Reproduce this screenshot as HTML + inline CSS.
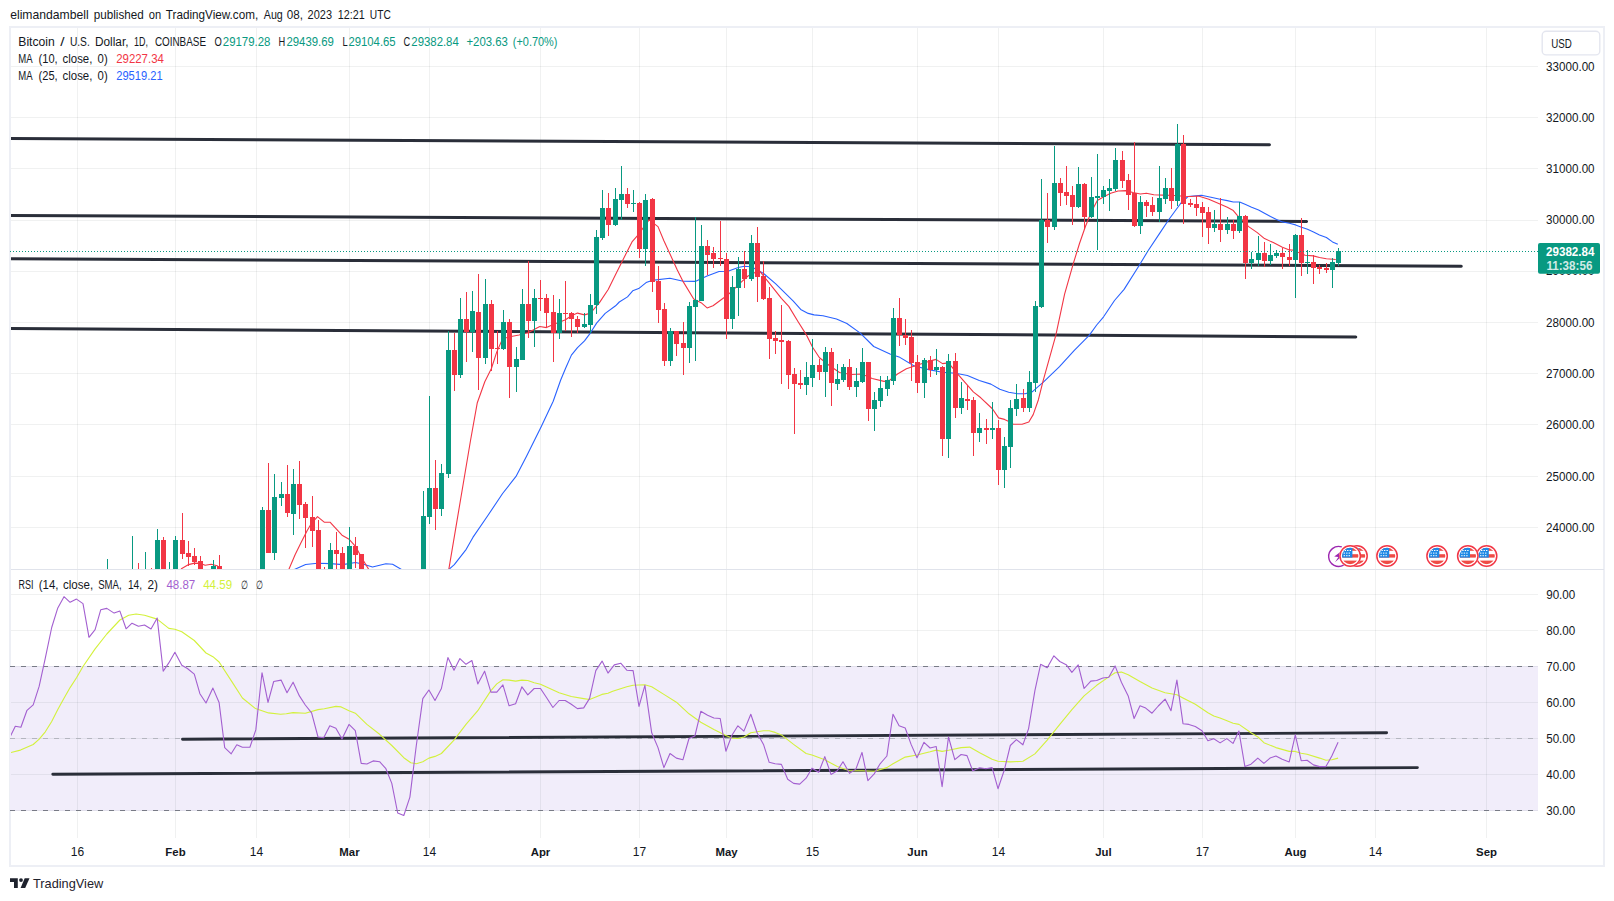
<!DOCTYPE html><html><head><meta charset="utf-8"><title>BTCUSD chart</title><style>html,body{margin:0;padding:0;background:#fff}</style></head><body><svg width="1614" height="901" viewBox="0 0 1614 901" style="display:block;font-family:'Liberation Sans', sans-serif">
<rect width="1614" height="901" fill="#fff"/>
<text x="10.2" y="18.6" font-size="13" fill="#131722" textLength="78.4" lengthAdjust="spacingAndGlyphs">elimandambell</text>
<text x="93.8" y="18.6" font-size="13" fill="#131722" textLength="49.9" lengthAdjust="spacingAndGlyphs">published</text>
<text x="148.7" y="18.6" font-size="13" fill="#131722" textLength="12.4" lengthAdjust="spacingAndGlyphs">on</text>
<text x="165.8" y="18.6" font-size="13" fill="#131722" textLength="92.4" lengthAdjust="spacingAndGlyphs">TradingView.com,</text>
<text x="263.8" y="18.6" font-size="13" fill="#131722" textLength="19" lengthAdjust="spacingAndGlyphs">Aug</text>
<text x="286.7" y="18.6" font-size="13" fill="#131722" textLength="16.2" lengthAdjust="spacingAndGlyphs">08,</text>
<text x="307.6" y="18.6" font-size="13" fill="#131722" textLength="24.4" lengthAdjust="spacingAndGlyphs">2023</text>
<text x="337.8" y="18.6" font-size="13" fill="#131722" textLength="27" lengthAdjust="spacingAndGlyphs">12:21</text>
<text x="369.8" y="18.6" font-size="13" fill="#131722" textLength="21" lengthAdjust="spacingAndGlyphs">UTC</text>
<rect x="10" y="27" width="1594" height="839" fill="#fff" stroke="#edeff5" stroke-width="2"/>
<defs><clipPath id="cm"><rect x="11" y="28" width="1527" height="541"/></clipPath><clipPath id="cr"><rect x="11" y="570" width="1527" height="268"/></clipPath></defs>
<rect x="10" y="666" width="1528" height="145" fill="#f1edfa"/>
<g fill="rgba(36,52,48,0.068)" shape-rendering="crispEdges"><rect x="77" y="28" width="1" height="810"/><rect x="175" y="28" width="1" height="810"/><rect x="256" y="28" width="1" height="810"/><rect x="349" y="28" width="1" height="810"/><rect x="429" y="28" width="1" height="810"/><rect x="540" y="28" width="1" height="810"/><rect x="639" y="28" width="1" height="810"/><rect x="726" y="28" width="1" height="810"/><rect x="812" y="28" width="1" height="810"/><rect x="917" y="28" width="1" height="810"/><rect x="998" y="28" width="1" height="810"/><rect x="1103" y="28" width="1" height="810"/><rect x="1202" y="28" width="1" height="810"/><rect x="1295" y="28" width="1" height="810"/><rect x="1375" y="28" width="1" height="810"/><rect x="1486" y="28" width="1" height="810"/><rect x="11" y="527" width="1527" height="1"/><rect x="11" y="476" width="1527" height="1"/><rect x="11" y="424" width="1527" height="1"/><rect x="11" y="373" width="1527" height="1"/><rect x="11" y="322" width="1527" height="1"/><rect x="11" y="271" width="1527" height="1"/><rect x="11" y="220" width="1527" height="1"/><rect x="11" y="168" width="1527" height="1"/><rect x="11" y="117" width="1527" height="1"/><rect x="11" y="66" width="1527" height="1"/><rect x="11" y="594" width="1527" height="1"/><rect x="11" y="630" width="1527" height="1"/><rect x="11" y="666" width="1527" height="1"/><rect x="11" y="702" width="1527" height="1"/><rect x="11" y="738" width="1527" height="1"/><rect x="11" y="774" width="1527" height="1"/><rect x="11" y="810" width="1527" height="1"/></g>
<rect x="11" y="569" width="1593" height="1" fill="#e0e3eb" shape-rendering="crispEdges"/>
<line x1="10" x2="1538" y1="666.5" y2="666.5" stroke="#787b86" stroke-width="1" stroke-dasharray="5 6" shape-rendering="crispEdges"/>
<line x1="10" x2="1538" y1="810.5" y2="810.5" stroke="#787b86" stroke-width="1" stroke-dasharray="5 6" shape-rendering="crispEdges"/>
<line x1="10" x2="1538" y1="738.5" y2="738.5" stroke="#b4b6bf" stroke-width="1" stroke-dasharray="5 6" shape-rendering="crispEdges"/>
<g clip-path="url(#cm)" stroke="#2a2e39" stroke-width="3.0" stroke-linecap="round">
<line x1="7" y1="138.59" x2="1269.5" y2="144.80"/>
<line x1="7" y1="215.39" x2="1306.6000000000001" y2="221.40"/>
<line x1="7" y1="258.68" x2="1461.3000000000002" y2="266.30"/>
<line x1="7" y1="328.38" x2="1355.8000000000002" y2="337.00"/>
</g>
<g clip-path="url(#cm)">
<polyline points="294.4,569.5 305.6,564.5 317.5,563.3 330.4,563.6 342.7,564.6 355.5,562.5 363.6,564.2 372.5,567.0 385.9,563.7 392.6,564.2 401.5,569.5" fill="none" stroke="#2962ff" stroke-width="1.1" stroke-linejoin="round" clip-path="url(#cm)" />
<polyline points="448.8,569.5 454.3,564.6 466.2,549.3 472.9,537.4 487.7,515.8 502.6,493.5 516.0,476.4 526.4,456.4 534.6,440.0 541.3,426.4 553.2,401.2 560.6,380.3 565.5,368.5 571.4,355.1 577.5,347.6 584.5,340.9 590.5,332.8 596.6,323.1 605.2,313.4 615.6,305.8 619.3,302.0 627.5,296.9 632.7,290.8 638.7,288.6 646.1,282.6 652.0,280.4 669.9,278.2 683.3,281.2 695.2,281.4 707.1,275.9 719.0,271.5 727.9,271.2 738.3,267.5 744.2,266.3 751.4,266.7 763.6,273.5 775.5,283.6 793.3,301.2 800.7,309.4 808.2,313.4 814.1,314.9 823.0,315.7 836.5,319.0 846.9,323.5 860.3,333.1 873.7,346.5 890.0,353.9 899.0,356.9 913.8,365.8 928.7,369.6 942.5,372.2 955.5,373.3 967.4,375.5 979.3,380.5 990.9,384.1 999.8,389.3 1008.7,392.3 1017.6,393.8 1025.1,393.8 1032.5,391.6 1038.4,386.4 1043.1,382.3 1059.5,366.7 1074.3,350.3 1089.2,335.4 1096.7,325.0 1103.6,316.8 1114.5,300.5 1124.1,289.4 1139.0,265.8 1147.9,251.0 1159.8,233.1 1168.7,219.8 1180.6,203.5 1188.0,196.5 1201.4,195.2 1213.3,197.7 1220.0,199.3 1227.3,200.6 1233.3,202.0 1239.6,202.0 1245.6,204.6 1251.6,207.3 1258.6,210.0 1264.5,213.3 1270.5,216.6 1276.5,219.5 1282.4,221.9 1289.4,223.3 1295.6,224.9 1301.5,227.3 1307.5,229.3 1313.5,231.9 1319.5,234.9 1326.4,237.5 1332.5,241.9 1337.8,244.3" fill="none" stroke="#2962ff" stroke-width="1.1" stroke-linejoin="round" clip-path="url(#cm)" />
<polyline points="181.0,569.0 188.6,564.6 194.5,563.1 200.4,563.4 205.2,565.2 211.2,564.2 217.1,565.7 221.0,569.5" fill="none" stroke="#f23645" stroke-width="1.1" stroke-linejoin="round" clip-path="url(#cm)" />
<polyline points="288.8,569.5 295.2,554.5 301.1,542.6 307.1,530.7 311.5,523.3 317.5,516.6 324.2,522.2 330.0,522.2 342.0,535.2 348.7,538.9 355.5,546.3 361.5,557.5 368.8,569.5" fill="none" stroke="#f23645" stroke-width="1.1" stroke-linejoin="round" clip-path="url(#cm)" />
<polyline points="448.8,569.5 470.6,440.0 477.3,402.7 484.8,381.8 491.4,368.5 496.7,352.1 502.6,338.7 510.0,336.8 519.0,335.0 527.9,332.8 539.8,326.5 546.5,327.6 553.2,324.6 559.9,322.1 565.5,319.7 571.4,315.7 577.5,313.1 584.5,314.9 590.5,313.1 596.6,306.0 599.3,302.9 608.2,289.5 615.6,274.6 623.0,259.7 632.0,241.9 637.5,235.7 649.1,219.9 658.0,226.6 663.9,240.7 677.3,270.0 683.3,281.9 693.7,299.0 701.1,302.7 707.1,307.9 713.0,305.7 724.2,297.5 730.9,292.3 739.8,283.4 748.0,276.0 759.1,270.4 769.5,283.4 781.4,298.3 788.8,306.4 797.8,321.3 806.7,335.4 812.6,347.3 819.5,357.7 829.0,365.2 839.5,372.5 851.4,374.5 861.8,374.0 872.2,378.5 884.1,381.4 890.0,380.0 897.5,374.0 906.4,368.8 917.5,365.1 928.7,361.4 936.1,359.4 942.5,363.6 948.5,362.9 958.4,374.8 967.4,385.2 973.3,391.9 980.8,397.8 992.6,409.0 998.6,417.9 1004.5,419.4 1010.5,422.3 1013.2,424.3 1022.1,424.3 1028.8,422.0 1033.2,414.6 1038.4,399.7 1043.1,380.8 1055.8,335.4 1064.6,294.1 1073.5,262.9 1079.5,243.5 1085.4,226.5 1091.4,211.7 1097.3,200.5 1103.3,197.0 1110.7,193.3 1118.1,191.0 1125.6,190.6 1133.0,192.5 1140.4,194.0 1146.4,193.3 1153.8,194.8 1162.8,195.1 1174.6,195.5 1183.6,196.2 1191.0,196.5 1198.4,196.0 1208.8,199.2 1219.3,203.7 1227.3,207.3 1233.3,210.6 1237.3,215.3 1248.6,226.6 1257.3,232.6 1264.5,238.6 1273.3,242.6 1282.4,247.2 1289.4,249.9 1294.6,250.2 1298.6,252.6 1305.2,255.2 1313.2,255.9 1319.5,257.5 1326.4,258.8 1335.8,259.5" fill="none" stroke="#f23645" stroke-width="1.1" stroke-linejoin="round" clip-path="url(#cm)" />
</g>
<g clip-path="url(#cm)" shape-rendering="crispEdges"><g fill="#089981"><rect x="107" y="559" width="1" height="21"/><rect x="105" y="575" width="5" height="5"/><rect x="132" y="536" width="1" height="44"/><rect x="130" y="575" width="5" height="5"/><rect x="145" y="552" width="1" height="28"/><rect x="143" y="575" width="5" height="5"/><rect x="157" y="529" width="1" height="51"/><rect x="155" y="540" width="5" height="40"/><rect x="169" y="562" width="1" height="18"/><rect x="167" y="575" width="5" height="5"/><rect x="175" y="536" width="1" height="44"/><rect x="173" y="540" width="5" height="40"/><rect x="213" y="560" width="1" height="20"/><rect x="211" y="566" width="5" height="14"/><rect x="262" y="507" width="1" height="73"/><rect x="260" y="510" width="5" height="70"/><rect x="274" y="474" width="1" height="86"/><rect x="272" y="497" width="5" height="56"/><rect x="281" y="482" width="1" height="24"/><rect x="279" y="494" width="5" height="4"/><rect x="293" y="469" width="1" height="66"/><rect x="291" y="484" width="5" height="30"/><rect x="330" y="543" width="1" height="37"/><rect x="328" y="550" width="5" height="30"/><rect x="349" y="527" width="1" height="53"/><rect x="347" y="546" width="5" height="34"/><rect x="423" y="491" width="1" height="89"/><rect x="421" y="516" width="5" height="64"/><rect x="429" y="396" width="1" height="128"/><rect x="427" y="488" width="5" height="29"/><rect x="441" y="464" width="1" height="52"/><rect x="439" y="473" width="5" height="36"/><rect x="448" y="331" width="1" height="147"/><rect x="446" y="350" width="5" height="124"/><rect x="460" y="298" width="1" height="80"/><rect x="458" y="319" width="5" height="56"/><rect x="472" y="291" width="1" height="61"/><rect x="470" y="311" width="5" height="21"/><rect x="485" y="279" width="1" height="85"/><rect x="483" y="304" width="5" height="54"/><rect x="503" y="310" width="1" height="40"/><rect x="501" y="322" width="5" height="27"/><rect x="516" y="347" width="1" height="45"/><rect x="514" y="359" width="5" height="8"/><rect x="522" y="289" width="1" height="71"/><rect x="520" y="304" width="5" height="56"/><rect x="534" y="289" width="1" height="58"/><rect x="532" y="298" width="5" height="23"/><rect x="559" y="299" width="1" height="40"/><rect x="557" y="313" width="5" height="20"/><rect x="584" y="313" width="1" height="15"/><rect x="582" y="324" width="5" height="3"/><rect x="590" y="294" width="1" height="39"/><rect x="588" y="305" width="5" height="20"/><rect x="596" y="230" width="1" height="84"/><rect x="594" y="237" width="5" height="68"/><rect x="602" y="190" width="1" height="50"/><rect x="600" y="208" width="5" height="30"/><rect x="615" y="188" width="1" height="38"/><rect x="613" y="199" width="5" height="26"/><rect x="621" y="166" width="1" height="54"/><rect x="619" y="194" width="5" height="6"/><rect x="633" y="190" width="1" height="22"/><rect x="631" y="203" width="5" height="1"/><rect x="645" y="194" width="1" height="72"/><rect x="643" y="200" width="5" height="49"/><rect x="670" y="328" width="1" height="38"/><rect x="668" y="331" width="5" height="30"/><rect x="689" y="302" width="1" height="61"/><rect x="687" y="306" width="5" height="42"/><rect x="695" y="217" width="1" height="144"/><rect x="693" y="300" width="5" height="7"/><rect x="701" y="225" width="1" height="76"/><rect x="699" y="246" width="5" height="55"/><rect x="732" y="276" width="1" height="53"/><rect x="730" y="287" width="5" height="32"/><rect x="738" y="257" width="1" height="59"/><rect x="736" y="269" width="5" height="19"/><rect x="751" y="235" width="1" height="46"/><rect x="749" y="243" width="5" height="36"/><rect x="806" y="362" width="1" height="33"/><rect x="804" y="377" width="5" height="8"/><rect x="812" y="339" width="1" height="48"/><rect x="810" y="365" width="5" height="13"/><rect x="825" y="347" width="1" height="50"/><rect x="823" y="352" width="5" height="20"/><rect x="837" y="364" width="1" height="26"/><rect x="835" y="379" width="5" height="5"/><rect x="843" y="364" width="1" height="18"/><rect x="841" y="367" width="5" height="13"/><rect x="856" y="368" width="1" height="29"/><rect x="854" y="381" width="5" height="6"/><rect x="862" y="348" width="1" height="35"/><rect x="860" y="362" width="5" height="20"/><rect x="874" y="392" width="1" height="39"/><rect x="872" y="400" width="5" height="9"/><rect x="880" y="376" width="1" height="31"/><rect x="878" y="388" width="5" height="13"/><rect x="887" y="376" width="1" height="20"/><rect x="885" y="380" width="5" height="9"/><rect x="893" y="308" width="1" height="77"/><rect x="891" y="318" width="5" height="63"/><rect x="924" y="358" width="1" height="40"/><rect x="922" y="360" width="5" height="23"/><rect x="936" y="349" width="1" height="26"/><rect x="934" y="367" width="5" height="3"/><rect x="948" y="354" width="1" height="104"/><rect x="946" y="361" width="5" height="78"/><rect x="961" y="382" width="1" height="32"/><rect x="959" y="398" width="5" height="10"/><rect x="979" y="413" width="1" height="29"/><rect x="977" y="428" width="5" height="5"/><rect x="992" y="402" width="1" height="37"/><rect x="990" y="428" width="5" height="2"/><rect x="1004" y="437" width="1" height="51"/><rect x="1002" y="446" width="5" height="24"/><rect x="1010" y="400" width="1" height="68"/><rect x="1008" y="408" width="5" height="39"/><rect x="1016" y="384" width="1" height="32"/><rect x="1014" y="399" width="5" height="10"/><rect x="1029" y="371" width="1" height="41"/><rect x="1027" y="382" width="5" height="26"/><rect x="1035" y="301" width="1" height="91"/><rect x="1033" y="306" width="5" height="77"/><rect x="1041" y="179" width="1" height="129"/><rect x="1039" y="220" width="5" height="87"/><rect x="1054" y="146" width="1" height="84"/><rect x="1052" y="183" width="5" height="44"/><rect x="1078" y="167" width="1" height="41"/><rect x="1076" y="184" width="5" height="23"/><rect x="1091" y="177" width="1" height="41"/><rect x="1089" y="197" width="5" height="20"/><rect x="1097" y="154" width="1" height="96"/><rect x="1095" y="196" width="5" height="2"/><rect x="1103" y="186" width="1" height="18"/><rect x="1101" y="190" width="5" height="7"/><rect x="1109" y="179" width="1" height="32"/><rect x="1107" y="188" width="5" height="3"/><rect x="1115" y="148" width="1" height="43"/><rect x="1113" y="160" width="5" height="29"/><rect x="1140" y="196" width="1" height="38"/><rect x="1138" y="202" width="5" height="24"/><rect x="1159" y="166" width="1" height="56"/><rect x="1157" y="198" width="5" height="14"/><rect x="1165" y="178" width="1" height="26"/><rect x="1163" y="188" width="5" height="11"/><rect x="1177" y="124" width="1" height="82"/><rect x="1175" y="144" width="5" height="57"/><rect x="1214" y="210" width="1" height="22"/><rect x="1212" y="224" width="5" height="4"/><rect x="1227" y="217" width="1" height="17"/><rect x="1225" y="224" width="5" height="6"/><rect x="1239" y="202" width="1" height="31"/><rect x="1237" y="216" width="5" height="15"/><rect x="1251" y="252" width="1" height="17"/><rect x="1249" y="259" width="5" height="4"/><rect x="1258" y="236" width="1" height="30"/><rect x="1256" y="253" width="5" height="7"/><rect x="1270" y="244" width="1" height="21"/><rect x="1268" y="255" width="5" height="6"/><rect x="1276" y="250" width="1" height="8"/><rect x="1274" y="253" width="5" height="3"/><rect x="1295" y="234" width="1" height="64"/><rect x="1293" y="235" width="5" height="25"/><rect x="1307" y="250" width="1" height="24"/><rect x="1305" y="262" width="5" height="1"/><rect x="1332" y="258" width="1" height="30"/><rect x="1330" y="262" width="5" height="8"/><rect x="1338" y="248" width="1" height="18"/><rect x="1336" y="251" width="5" height="12"/></g><g fill="#f23645"><rect x="138" y="563" width="1" height="17"/><rect x="136" y="575" width="5" height="5"/><rect x="151" y="568" width="1" height="12"/><rect x="149" y="575" width="5" height="5"/><rect x="163" y="537" width="1" height="43"/><rect x="161" y="540" width="5" height="40"/><rect x="182" y="513" width="1" height="46"/><rect x="180" y="540" width="5" height="14"/><rect x="188" y="541" width="1" height="25"/><rect x="186" y="553" width="5" height="4"/><rect x="194" y="548" width="1" height="17"/><rect x="192" y="556" width="5" height="6"/><rect x="200" y="556" width="1" height="24"/><rect x="198" y="561" width="5" height="19"/><rect x="219" y="555" width="1" height="25"/><rect x="217" y="566" width="5" height="14"/><rect x="268" y="463" width="1" height="90"/><rect x="266" y="510" width="5" height="43"/><rect x="287" y="465" width="1" height="52"/><rect x="285" y="494" width="5" height="19"/><rect x="299" y="461" width="1" height="58"/><rect x="297" y="484" width="5" height="21"/><rect x="305" y="502" width="1" height="46"/><rect x="303" y="504" width="5" height="14"/><rect x="312" y="496" width="1" height="51"/><rect x="310" y="517" width="5" height="14"/><rect x="318" y="520" width="1" height="60"/><rect x="316" y="530" width="5" height="50"/><rect x="324" y="567" width="1" height="13"/><rect x="322" y="575" width="5" height="5"/><rect x="336" y="532" width="1" height="48"/><rect x="334" y="550" width="5" height="4"/><rect x="342" y="547" width="1" height="33"/><rect x="340" y="553" width="5" height="27"/><rect x="355" y="537" width="1" height="31"/><rect x="353" y="546" width="5" height="9"/><rect x="361" y="554" width="1" height="26"/><rect x="359" y="554" width="5" height="26"/><rect x="435" y="460" width="1" height="70"/><rect x="433" y="488" width="5" height="21"/><rect x="454" y="333" width="1" height="58"/><rect x="452" y="350" width="5" height="25"/><rect x="466" y="292" width="1" height="70"/><rect x="464" y="319" width="5" height="13"/><rect x="478" y="274" width="1" height="116"/><rect x="476" y="312" width="5" height="46"/><rect x="491" y="300" width="1" height="71"/><rect x="489" y="304" width="5" height="45"/><rect x="497" y="331" width="1" height="33"/><rect x="495" y="348" width="5" height="1"/><rect x="509" y="319" width="1" height="79"/><rect x="507" y="322" width="5" height="45"/><rect x="528" y="261" width="1" height="77"/><rect x="526" y="304" width="5" height="17"/><rect x="540" y="280" width="1" height="31"/><rect x="538" y="298" width="5" height="1"/><rect x="546" y="294" width="1" height="34"/><rect x="544" y="298" width="5" height="15"/><rect x="553" y="295" width="1" height="67"/><rect x="551" y="312" width="5" height="21"/><rect x="565" y="281" width="1" height="50"/><rect x="563" y="313" width="5" height="1"/><rect x="571" y="312" width="1" height="25"/><rect x="569" y="313" width="5" height="6"/><rect x="577" y="316" width="1" height="17"/><rect x="575" y="319" width="5" height="8"/><rect x="608" y="193" width="1" height="43"/><rect x="606" y="208" width="5" height="17"/><rect x="627" y="188" width="1" height="20"/><rect x="625" y="194" width="5" height="10"/><rect x="639" y="202" width="1" height="56"/><rect x="637" y="203" width="5" height="46"/><rect x="652" y="198" width="1" height="94"/><rect x="650" y="199" width="5" height="83"/><rect x="658" y="266" width="1" height="57"/><rect x="656" y="281" width="5" height="29"/><rect x="664" y="303" width="1" height="63"/><rect x="662" y="309" width="5" height="52"/><rect x="676" y="331" width="1" height="25"/><rect x="674" y="331" width="5" height="13"/><rect x="683" y="322" width="1" height="53"/><rect x="681" y="343" width="5" height="5"/><rect x="707" y="240" width="1" height="35"/><rect x="705" y="246" width="5" height="9"/><rect x="713" y="247" width="1" height="21"/><rect x="711" y="253" width="5" height="6"/><rect x="720" y="221" width="1" height="45"/><rect x="718" y="258" width="5" height="1"/><rect x="726" y="253" width="1" height="86"/><rect x="724" y="259" width="5" height="60"/><rect x="744" y="251" width="1" height="37"/><rect x="742" y="269" width="5" height="10"/><rect x="757" y="227" width="1" height="75"/><rect x="755" y="243" width="5" height="34"/><rect x="763" y="261" width="1" height="39"/><rect x="761" y="276" width="5" height="23"/><rect x="769" y="287" width="1" height="72"/><rect x="767" y="298" width="5" height="41"/><rect x="775" y="331" width="1" height="23"/><rect x="773" y="338" width="5" height="3"/><rect x="781" y="305" width="1" height="79"/><rect x="779" y="340" width="5" height="2"/><rect x="788" y="340" width="1" height="49"/><rect x="786" y="341" width="5" height="34"/><rect x="794" y="368" width="1" height="66"/><rect x="792" y="374" width="5" height="10"/><rect x="800" y="370" width="1" height="19"/><rect x="798" y="383" width="5" height="2"/><rect x="819" y="359" width="1" height="21"/><rect x="817" y="365" width="5" height="7"/><rect x="831" y="348" width="1" height="58"/><rect x="829" y="352" width="5" height="31"/><rect x="849" y="359" width="1" height="31"/><rect x="847" y="367" width="5" height="20"/><rect x="868" y="362" width="1" height="59"/><rect x="866" y="362" width="5" height="47"/><rect x="899" y="298" width="1" height="48"/><rect x="897" y="318" width="5" height="17"/><rect x="905" y="319" width="1" height="26"/><rect x="903" y="335" width="5" height="3"/><rect x="911" y="330" width="1" height="51"/><rect x="909" y="337" width="5" height="26"/><rect x="917" y="355" width="1" height="38"/><rect x="915" y="362" width="5" height="21"/><rect x="930" y="356" width="1" height="21"/><rect x="928" y="360" width="5" height="10"/><rect x="942" y="366" width="1" height="90"/><rect x="940" y="367" width="5" height="72"/><rect x="955" y="353" width="1" height="65"/><rect x="953" y="361" width="5" height="47"/><rect x="967" y="385" width="1" height="25"/><rect x="965" y="399" width="5" height="2"/><rect x="973" y="397" width="1" height="59"/><rect x="971" y="400" width="5" height="33"/><rect x="986" y="419" width="1" height="25"/><rect x="984" y="428" width="5" height="2"/><rect x="998" y="420" width="1" height="65"/><rect x="996" y="428" width="5" height="42"/><rect x="1023" y="389" width="1" height="23"/><rect x="1021" y="398" width="5" height="10"/><rect x="1047" y="193" width="1" height="50"/><rect x="1045" y="220" width="5" height="7"/><rect x="1060" y="178" width="1" height="28"/><rect x="1058" y="183" width="5" height="10"/><rect x="1066" y="166" width="1" height="39"/><rect x="1064" y="192" width="5" height="4"/><rect x="1072" y="186" width="1" height="39"/><rect x="1070" y="195" width="5" height="12"/><rect x="1084" y="183" width="1" height="46"/><rect x="1082" y="184" width="5" height="33"/><rect x="1122" y="151" width="1" height="37"/><rect x="1120" y="160" width="5" height="21"/><rect x="1128" y="174" width="1" height="36"/><rect x="1126" y="180" width="5" height="15"/><rect x="1134" y="142" width="1" height="85"/><rect x="1132" y="193" width="5" height="33"/><rect x="1146" y="200" width="1" height="17"/><rect x="1144" y="202" width="5" height="4"/><rect x="1152" y="197" width="1" height="19"/><rect x="1150" y="205" width="5" height="7"/><rect x="1171" y="168" width="1" height="41"/><rect x="1169" y="188" width="5" height="13"/><rect x="1183" y="135" width="1" height="89"/><rect x="1181" y="144" width="5" height="60"/><rect x="1190" y="199" width="1" height="8"/><rect x="1188" y="203" width="5" height="2"/><rect x="1196" y="196" width="1" height="20"/><rect x="1194" y="204" width="5" height="4"/><rect x="1202" y="202" width="1" height="35"/><rect x="1200" y="207" width="5" height="6"/><rect x="1208" y="207" width="1" height="37"/><rect x="1206" y="212" width="5" height="16"/><rect x="1220" y="198" width="1" height="44"/><rect x="1218" y="224" width="5" height="6"/><rect x="1233" y="220" width="1" height="19"/><rect x="1231" y="224" width="5" height="7"/><rect x="1245" y="215" width="1" height="64"/><rect x="1243" y="216" width="5" height="47"/><rect x="1264" y="242" width="1" height="25"/><rect x="1262" y="253" width="5" height="8"/><rect x="1282" y="248" width="1" height="21"/><rect x="1280" y="253" width="5" height="4"/><rect x="1289" y="244" width="1" height="22"/><rect x="1287" y="257" width="5" height="3"/><rect x="1301" y="218" width="1" height="58"/><rect x="1299" y="235" width="5" height="28"/><rect x="1313" y="255" width="1" height="29"/><rect x="1311" y="262" width="5" height="6"/><rect x="1319" y="265" width="1" height="9"/><rect x="1317" y="267" width="5" height="2"/><rect x="1326" y="263" width="1" height="10"/><rect x="1324" y="268" width="5" height="2"/></g></g>
<line x1="10" x2="1538" y1="251.5" y2="251.5" stroke="#089981" stroke-width="1" stroke-dasharray="1 2" shape-rendering="crispEdges"/>
<g stroke="#2a2e39" stroke-width="2.9" stroke-linecap="round"><line x1="182.5" y1="739.2" x2="1386.6" y2="732.8"/><line x1="52.8" y1="774.3" x2="1417.4" y2="767.6"/></g>
<polyline points="10.3,752.7 20.5,750.1 33.2,744.5 39.2,739.2 45.3,731.8 51.7,721.5 57.8,709.4 64.0,698.2 70.1,687.6 76.5,677.7 83.0,666.5 95.1,648.9 106.8,634.0 119.9,620.0 128.7,615.3 136.1,614.0 144.5,615.3 157.2,619.1 168.8,628.4 174.9,629.3 181.8,631.8 194.3,640.5 206.0,653.0 212.9,656.7 219.1,662.0 231.2,680.6 242.4,698.0 255.5,708.6 268.5,712.9 280.6,714.2 286.3,713.8 293.1,712.6 305.3,713.2 318.0,709.6 324.3,708.8 335.9,706.4 341.2,706.9 349.0,710.7 355.3,713.2 366.9,724.4 379.6,734.3 391.8,745.5 403.8,757.7 410.8,762.8 416.3,763.8 422.8,761.7 428.9,758.1 435.0,756.4 441.4,753.5 454.0,740.2 466.0,724.4 477.8,710.7 490.9,690.6 496.8,683.9 502.9,679.7 509.1,680.1 515.6,681.1 521.9,680.1 527.8,680.5 534.2,682.8 540.5,684.3 559.1,692.7 571.3,696.5 583.7,698.6 589.6,699.5 595.8,697.0 601.9,694.4 608.0,693.2 612.7,691.3 626.8,686.8 633.1,685.3 644.9,684.7 651.7,686.8 663.9,694.4 676.4,702.2 689.0,713.8 700.8,722.3 713.9,729.6 725.9,735.5 731.8,738.1 737.9,738.5 743.9,737.0 750.8,732.8 757.1,731.8 763.5,730.7 769.2,730.7 775.1,732.4 781.4,734.9 793.6,744.4 806.1,753.5 812.0,755.0 824.8,759.8 837.3,766.6 849.5,770.8 862.0,770.8 874.2,771.2 886.9,767.6 893.0,763.8 905.2,757.1 917.0,755.0 930.1,751.8 936.2,750.1 942.1,751.4 948.5,750.3 961.1,747.6 969.6,747.1 979.7,752.8 992.1,759.2 998.0,761.3 1010.3,761.9 1022.9,761.3 1034.9,753.9 1047.2,740.2 1059.8,724.4 1071.9,709.6 1084.1,695.9 1096.7,685.3 1108.8,676.9 1115.1,672.7 1121.4,672.1 1128.2,674.8 1140.0,681.6 1152.0,688.1 1165.1,692.7 1176.9,694.8 1183.0,698.0 1195.3,704.3 1207.9,712.8 1213.8,715.9 1220.0,718.0 1227.0,720.8 1233.1,723.3 1239.0,724.4 1251.0,732.8 1258.0,737.0 1263.9,742.7 1275.9,747.6 1289.2,751.4 1295.3,751.4 1301.2,753.3 1307.1,754.3 1319.6,758.1 1325.9,760.2 1331.8,759.8 1338.1,758.1" fill="none" stroke="#d3f13c" stroke-width="1.1" stroke-linejoin="round" clip-path="url(#cr)" />
<polyline points="10.3,736.5 15.3,726.2 20.9,727.3 27.0,710.3 33.2,704.8 39.2,686.2 45.3,658.2 51.7,627.5 57.8,607.9 64.0,596.7 70.1,602.3 76.5,599.1 83.0,603.6 89.0,637.3 95.1,629.7 100.7,609.8 106.8,608.4 114.1,613.1 119.9,611.1 126.1,628.8 132.0,623.2 138.4,626.2 144.5,625.0 151.0,629.0 157.2,618.1 163.2,671.3 168.8,662.9 174.9,652.3 181.8,665.3 187.4,668.5 194.3,674.1 199.9,693.7 206.0,703.0 212.9,688.1 219.1,702.5 224.7,747.6 231.2,753.8 236.8,744.8 242.4,747.3 249.9,747.3 255.8,729.9 262.0,672.7 268.0,702.4 273.7,681.5 281.1,680.1 287.0,692.7 293.1,682.2 299.4,695.9 305.3,705.0 311.6,712.8 318.0,737.0 323.7,737.7 329.8,725.8 335.9,728.2 342.0,739.1 349.0,724.4 355.3,730.7 361.2,763.4 366.9,764.0 373.2,760.9 379.6,761.7 385.9,768.7 391.8,783.4 397.7,813.0 403.8,815.5 409.9,797.1 416.3,745.5 422.8,698.6 428.9,690.0 435.0,700.5 441.4,688.5 447.9,657.5 454.0,670.2 459.9,658.6 466.0,664.3 471.9,660.5 477.8,683.9 484.6,671.2 490.9,692.1 496.8,692.1 502.9,684.9 509.1,705.8 515.6,703.7 521.9,686.8 527.8,694.8 534.2,688.5 540.5,688.5 546.8,698.0 552.9,707.5 559.1,700.5 565.2,700.5 571.3,704.3 577.4,708.6 583.7,707.9 589.6,698.4 595.8,670.6 602.1,661.1 608.0,673.1 614.3,664.9 620.7,663.2 626.8,670.2 633.1,670.6 639.0,706.4 644.9,685.3 651.7,732.8 658.0,747.6 663.9,767.6 670.0,753.5 676.4,758.1 682.9,759.8 689.0,738.5 694.9,736.0 700.8,711.3 707.6,715.3 713.9,718.0 720.2,718.5 725.9,751.2 731.8,735.5 737.9,725.8 743.9,731.1 750.8,714.2 757.1,732.8 763.5,744.4 769.2,762.3 775.1,763.8 781.4,764.4 787.7,779.2 793.6,783.4 799.7,784.1 806.1,778.2 812.0,768.2 818.7,772.3 824.8,756.6 831.0,774.4 837.3,770.8 843.0,761.7 849.5,773.3 855.9,769.1 862.0,752.4 867.9,780.7 874.2,773.9 880.1,763.8 886.9,756.0 893.0,714.2 899.1,725.8 905.2,728.0 911.1,744.4 917.0,757.7 924.0,742.3 930.1,748.0 936.2,746.5 942.1,786.6 948.5,737.0 954.8,759.6 961.1,754.5 967.0,755.6 972.7,770.8 979.7,767.8 985.8,768.7 992.1,767.6 998.0,788.7 1004.4,769.7 1010.3,745.5 1016.4,739.6 1022.9,744.8 1028.6,728.6 1034.9,690.6 1040.6,664.3 1047.2,667.8 1053.9,655.8 1059.8,661.5 1066.2,664.7 1071.9,672.3 1078.2,664.9 1084.1,688.5 1090.8,681.1 1096.7,680.5 1102.9,678.0 1108.8,677.3 1115.1,665.9 1121.4,682.2 1128.2,695.9 1134.1,718.5 1140.0,705.8 1145.7,708.1 1152.0,713.2 1158.3,706.0 1165.1,699.1 1171.0,710.7 1176.9,680.1 1183.0,723.7 1188.9,724.4 1195.3,726.5 1202.0,730.7 1207.9,740.8 1213.8,738.7 1220.1,742.9 1226.8,738.6 1233.0,743.4 1238.9,731.1 1244.9,766.6 1251.0,764.2 1257.8,758.1 1263.9,763.4 1270.0,758.1 1275.9,756.0 1282.2,759.2 1289.2,761.9 1295.3,734.9 1301.2,760.7 1307.1,760.2 1313.4,764.9 1319.6,766.6 1325.9,766.6 1331.8,756.0 1338.1,742.3" fill="none" stroke="#a35fd0" stroke-width="1.1" stroke-linejoin="round" clip-path="url(#cr)" />
<defs><clipPath id="fc"><circle cx="0" cy="0" r="8.2"/></clipPath><g id="flag"><circle r="10.9" fill="#fff"/><circle r="10.2" fill="none" stroke="#f23645" stroke-width="1.5"/><g clip-path="url(#fc)"><rect x="-9" y="-9" width="18" height="18" fill="#fff"/><rect x="-9" y="-8.4" width="18" height="3.2" fill="#ef4b45"/><rect x="-9" y="-1.8" width="18" height="3.4" fill="#ef4b45"/><rect x="-9" y="4.6" width="18" height="4" fill="#ef4b45"/><rect x="-9" y="-9" width="11.2" height="10.6" fill="#1e88e5"/><g fill="#fff"><rect x="-5.6" y="-6" width="1.4" height="1"/><rect x="-3.1" y="-6" width="1.4" height="1"/><rect x="-0.6" y="-6" width="1.4" height="1"/><rect x="-6.6" y="-3.4" width="1.4" height="1"/><rect x="-4.1" y="-3.4" width="1.4" height="1"/><rect x="-1.6" y="-3.4" width="1.4" height="1"/><rect x="-6.6" y="-0.8" width="1.4" height="1"/><rect x="-4.1" y="-0.8" width="1.4" height="1"/><rect x="-1.6" y="-0.8" width="1.4" height="1"/></g></g></g></defs>
<g transform="translate(1338.6,556.4)"><path d="M3.2 -9.5A10 10 0 1 0 5 8.7" fill="none" stroke="#9c27b0" stroke-width="1.4"/><path d="M2.8 -5.2L-4.4 0L-0.2 0.5L-3.6 5.8L4 -1L0.2 -1.4z" fill="#9c27b0"/></g>
<use href="#flag" x="1486.6" y="556"/>
<use href="#flag" x="1467.8" y="556"/>
<use href="#flag" x="1437.1" y="556"/>
<use href="#flag" x="1387.05" y="556"/>
<use href="#flag" x="1357" y="556"/>
<use href="#flag" x="1350.2" y="556"/>
<g font-size="12" fill="#131722">
<text x="18.3" y="45.6" textLength="36.5" lengthAdjust="spacingAndGlyphs">Bitcoin</text>
<text x="60.3" y="45.6" textLength="4.3" lengthAdjust="spacingAndGlyphs">/</text>
<text x="69.9" y="45.6" textLength="19.9" lengthAdjust="spacingAndGlyphs">U.S.</text>
<text x="95" y="45.6" textLength="33.5" lengthAdjust="spacingAndGlyphs">Dollar,</text>
<text x="134" y="45.6" textLength="13.9" lengthAdjust="spacingAndGlyphs">1D,</text>
<text x="154.9" y="45.6" textLength="51.1" lengthAdjust="spacingAndGlyphs">COINBASE</text>
<text x="214.4" y="45.6" textLength="7.3" lengthAdjust="spacingAndGlyphs">O</text>
<text x="222.8" y="45.6" textLength="47.6" lengthAdjust="spacingAndGlyphs" fill="#089981">29179.28</text>
<text x="278.6" y="45.6" textLength="6.7" lengthAdjust="spacingAndGlyphs">H</text>
<text x="286.4" y="45.6" textLength="47.5" lengthAdjust="spacingAndGlyphs" fill="#089981">29439.69</text>
<text x="342.6" y="45.6" textLength="5.2" lengthAdjust="spacingAndGlyphs">L</text>
<text x="348.4" y="45.6" textLength="47.3" lengthAdjust="spacingAndGlyphs" fill="#089981">29104.65</text>
<text x="403.5" y="45.6" textLength="6.7" lengthAdjust="spacingAndGlyphs">C</text>
<text x="411.3" y="45.6" textLength="47.5" lengthAdjust="spacingAndGlyphs" fill="#089981">29382.84</text>
<text x="466.4" y="45.6" textLength="41.5" lengthAdjust="spacingAndGlyphs" fill="#089981">+203.63</text>
<text x="512.8" y="45.6" textLength="44.6" lengthAdjust="spacingAndGlyphs" fill="#089981">(+0.70%)</text>
<text x="18.3" y="62.8" textLength="14.3" lengthAdjust="spacingAndGlyphs">MA</text>
<text x="38.6" y="62.8" textLength="19.1" lengthAdjust="spacingAndGlyphs">(10,</text>
<text x="62.6" y="62.8" textLength="29.8" lengthAdjust="spacingAndGlyphs">close,</text>
<text x="97.6" y="62.8" textLength="10.1" lengthAdjust="spacingAndGlyphs">0)</text>
<text x="116.2" y="62.8" textLength="47.7" lengthAdjust="spacingAndGlyphs" fill="#f23645">29227.34</text>
<text x="18.3" y="79.9" textLength="14.3" lengthAdjust="spacingAndGlyphs">MA</text>
<text x="38.6" y="79.9" textLength="19.1" lengthAdjust="spacingAndGlyphs">(25,</text>
<text x="62.6" y="79.9" textLength="29.8" lengthAdjust="spacingAndGlyphs">close,</text>
<text x="97.6" y="79.9" textLength="10.1" lengthAdjust="spacingAndGlyphs">0)</text>
<text x="116.2" y="79.9" textLength="46.5" lengthAdjust="spacingAndGlyphs" fill="#2962ff">29519.21</text>
<text x="18.4" y="588.9" textLength="15.0" lengthAdjust="spacingAndGlyphs">RSI</text>
<text x="38.8" y="588.9" textLength="19.7" lengthAdjust="spacingAndGlyphs">(14,</text>
<text x="63" y="588.9" textLength="30.1" lengthAdjust="spacingAndGlyphs">close,</text>
<text x="98.2" y="588.9" textLength="23.5" lengthAdjust="spacingAndGlyphs">SMA,</text>
<text x="127.9" y="588.9" textLength="14.2" lengthAdjust="spacingAndGlyphs">14,</text>
<text x="147.5" y="588.9" textLength="10.5" lengthAdjust="spacingAndGlyphs">2)</text>
<text x="166.4" y="588.9" textLength="28.9" lengthAdjust="spacingAndGlyphs" fill="#a35fd0">48.87</text>
<text x="203.2" y="588.9" textLength="28.9" lengthAdjust="spacingAndGlyphs" fill="#d3f13c">44.59</text>
<text x="240.8" y="588.9" textLength="6.7" lengthAdjust="spacingAndGlyphs">∅</text>
<text x="255.9" y="588.9" textLength="6.7" lengthAdjust="spacingAndGlyphs">∅</text>
<text x="1546.1" y="531.9" textLength="48.5" lengthAdjust="spacingAndGlyphs">24000.00</text>
<text x="1546.1" y="480.9" textLength="48.5" lengthAdjust="spacingAndGlyphs">25000.00</text>
<text x="1546.1" y="428.9" textLength="48.5" lengthAdjust="spacingAndGlyphs">26000.00</text>
<text x="1546.1" y="377.9" textLength="48.5" lengthAdjust="spacingAndGlyphs">27000.00</text>
<text x="1546.1" y="326.9" textLength="48.5" lengthAdjust="spacingAndGlyphs">28000.00</text>
<text x="1546.1" y="275.4" textLength="48.5" lengthAdjust="spacingAndGlyphs">29000.00</text>
<text x="1546.1" y="223.8" textLength="48.5" lengthAdjust="spacingAndGlyphs">30000.00</text>
<text x="1546.1" y="172.9" textLength="48.5" lengthAdjust="spacingAndGlyphs">31000.00</text>
<text x="1546.1" y="121.9" textLength="48.5" lengthAdjust="spacingAndGlyphs">32000.00</text>
<text x="1546.1" y="70.9" textLength="48.5" lengthAdjust="spacingAndGlyphs">33000.00</text>
<text x="1546.2" y="814.8" textLength="29.1" lengthAdjust="spacingAndGlyphs">30.00</text>
<text x="1546.2" y="778.8" textLength="29.1" lengthAdjust="spacingAndGlyphs">40.00</text>
<text x="1546.2" y="742.8" textLength="29.1" lengthAdjust="spacingAndGlyphs">50.00</text>
<text x="1546.2" y="706.8" textLength="29.1" lengthAdjust="spacingAndGlyphs">60.00</text>
<text x="1546.2" y="670.8" textLength="29.1" lengthAdjust="spacingAndGlyphs">70.00</text>
<text x="1546.2" y="634.8" textLength="29.1" lengthAdjust="spacingAndGlyphs">80.00</text>
<text x="1546.2" y="598.8" textLength="29.1" lengthAdjust="spacingAndGlyphs">90.00</text>
<text x="77.5" y="855.7" text-anchor="middle">16</text>
<text x="175.5" y="855.7" font-size="11.4" font-weight="bold" text-anchor="middle">Feb</text>
<text x="256.5" y="855.7" text-anchor="middle">14</text>
<text x="349.5" y="855.7" font-size="11.4" font-weight="bold" text-anchor="middle">Mar</text>
<text x="429.5" y="855.7" text-anchor="middle">14</text>
<text x="540.5" y="855.7" font-size="11.4" font-weight="bold" text-anchor="middle">Apr</text>
<text x="639.5" y="855.7" text-anchor="middle">17</text>
<text x="726.5" y="855.7" font-size="11.4" font-weight="bold" text-anchor="middle">May</text>
<text x="812.5" y="855.7" text-anchor="middle">15</text>
<text x="917.5" y="855.7" font-size="11.4" font-weight="bold" text-anchor="middle">Jun</text>
<text x="998.5" y="855.7" text-anchor="middle">14</text>
<text x="1103.5" y="855.7" font-size="11.4" font-weight="bold" text-anchor="middle">Jul</text>
<text x="1202.5" y="855.7" text-anchor="middle">17</text>
<text x="1295.5" y="855.7" font-size="11.4" font-weight="bold" text-anchor="middle">Aug</text>
<text x="1375.5" y="855.7" text-anchor="middle">14</text>
<text x="1486.5" y="855.7" font-size="11.4" font-weight="bold" text-anchor="middle">Sep</text>
</g>
<rect x="1542.2" y="31.3" width="57.6" height="23.6" rx="4" fill="#fff" stroke="#e4e6ef" stroke-width="1.4"/>
<text x="1551.3" y="47.9" textLength="20.6" lengthAdjust="spacingAndGlyphs" fill="#131722" font-size="12">USD</text>
<rect x="1538" y="243" width="62" height="30.8" rx="2" fill="#089981"/>
<text x="1546" y="255.7" textLength="48.5" lengthAdjust="spacingAndGlyphs" fill="#fff" font-size="12" font-weight="bold">29382.84</text>
<text x="1546.4" y="269.5" textLength="46" lengthAdjust="spacingAndGlyphs" fill="#fff" font-size="12" font-weight="bold" fill-opacity="0.82">11:38:56</text>
<g fill="#1e222d"><path d="M10 878.2h7.8v9.7h-3.8v-5.9h-4z"/><circle cx="21" cy="880.1" r="1.9"/><path d="M24.7 878.2h4.8l-4.3 9.7h-4.6z"/></g>
<text x="33" y="887.8" textLength="70.2" lengthAdjust="spacingAndGlyphs" fill="#1e222d" font-size="13.5">TradingView</text>
</svg></body></html>
